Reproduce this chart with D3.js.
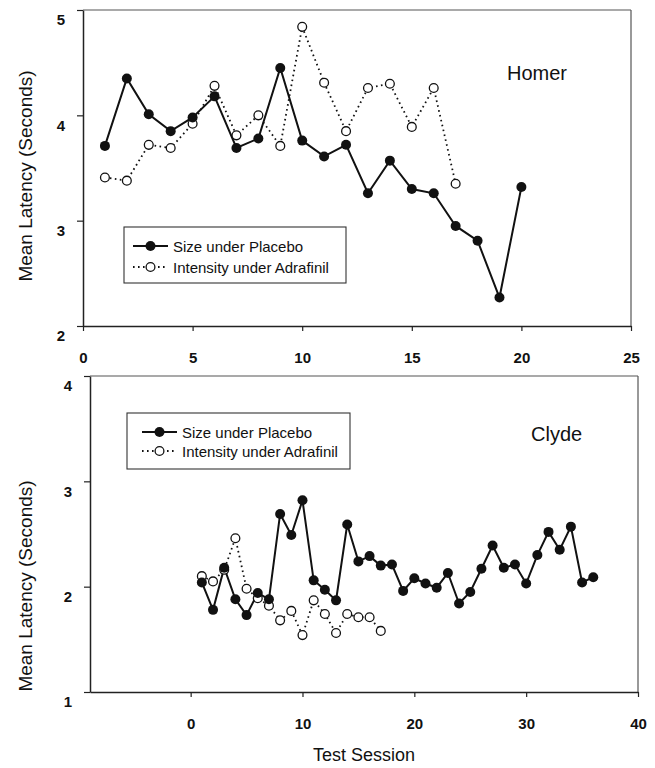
<!DOCTYPE html>
<html>
<head>
<meta charset="utf-8">
<script src="https://cdn.jsdelivr.net/npm/d3@7"></script>
<style>
body { margin: 0; background: #fff; }
svg { display: block; font-family: "Liberation Sans", Arial, sans-serif; }
</style>
</head>
<body>
<svg id="chart" width="655" height="768"></svg>
<script>
// Homer
var homerPlaceboSessions = [1, 2, 3, 4, 5, 6, 7, 8, 9, 10, 11, 12, 13, 14, 15, 16, 17, 18, 19, 20];
var homerPlacebo = [3.71, 4.35, 4.01, 3.85, 3.98, 4.18, 3.69, 3.78, 4.45, 3.76, 3.61, 3.72, 3.26, 3.57, 3.30, 3.26, 2.95, 2.81, 2.27, 3.32];
var homerAdrafinilSessions = [1, 2, 3, 4, 5, 6, 7, 8, 9, 10, 11, 12, 13, 14, 15, 16, 17];
var homerAdrafinil = [3.41, 3.38, 3.72, 3.69, 3.92, 4.28, 3.81, 4.00, 3.71, 4.84, 4.31, 3.85, 4.26, 4.30, 3.89, 4.26, 3.35];

// Clyde
var clydePlaceboSessions = [1, 2, 3, 4, 5, 6, 7, 8, 9, 10, 11, 12, 13, 14, 15, 16, 17, 18, 19, 20, 21, 22, 23, 24, 25, 26, 27, 28, 29, 30, 31, 32, 33, 34, 35, 36];
var clydePlacebo = [2.04, 1.78, 2.18, 1.88, 1.73, 1.94, 1.88, 2.69, 2.49, 2.82, 2.06, 1.97, 1.87, 2.59, 2.24, 2.29, 2.20, 2.21, 1.96, 2.08, 2.03, 1.99, 2.13, 1.84, 1.95, 2.17, 2.39, 2.18, 2.21, 2.03, 2.30, 2.52, 2.35, 2.57, 2.04, 2.09];
var clydeAdrafinilSessions = [1, 2, 3, 4, 5, 6, 7, 8, 9, 10, 11, 12, 13, 14, 15, 16, 17];
var clydeAdrafinil = [2.10, 2.05, 2.16, 2.46, 1.98, 1.89, 1.82, 1.68, 1.77, 1.54, 1.87, 1.74, 1.56, 1.74, 1.71, 1.71, 1.58];

var seriesNames = ["Size under Placebo", "Intensity under Adrafinil"];
var homerXTicks = [0, 5, 10, 15, 20, 25];
var homerYTicks = [2, 3, 4, 5];
var clydeXTicks = [0, 10, 20, 30, 40];
var clydeYTicks = [1, 2, 3, 4];

var svg = d3.select("#chart");

function zip(xs, ys) {
    return xs.map(function (x, i) { return {x: x, y: ys[i]}; });
}

function drawPanel(p) {
    var x = d3.scaleLinear().domain(p.xDomain).range([p.left, p.right]);
    var y = d3.scaleLinear().domain(p.yDomain).range([p.bottom, p.top]);
    var g = svg.append("g");

    // frame: top and right are lighter
    g.append("line").attr("x1", p.left).attr("x2", p.right).attr("y1", p.top).attr("y2", p.top)
        .attr("stroke", "#555").attr("stroke-width", 1.2);
    g.append("line").attr("x1", p.right).attr("x2", p.right).attr("y1", p.top).attr("y2", p.bottom)
        .attr("stroke", "#555").attr("stroke-width", 1.2);

    var xAxis = g.append("g")
        .attr("transform", "translate(0," + p.bottom + ")")
        .call(d3.axisBottom(x).tickValues(p.xTicks).tickSize(5).tickSizeOuter(0).tickPadding(21).tickFormat(d3.format("d")));
    var yAxis = g.append("g")
        .attr("transform", "translate(" + p.left + ",0)")
        .call(d3.axisLeft(y).tickValues(p.yTicks).tickSize(6).tickSizeOuter(0).tickPadding(12).tickFormat(d3.format("d")));

    [xAxis, yAxis].forEach(function (a) {
        a.select(".domain").attr("stroke", "#222").attr("stroke-width", 1.5);
        a.selectAll(".tick line").attr("stroke", "#222").attr("stroke-width", 1.2);
        a.selectAll(".tick text").attr("fill", "#111")
            .style("font-size", "15px").style("font-weight", "bold");
    });
    yAxis.selectAll(".tick text").attr("y", 10);

    g.append("text")
        .attr("transform", "translate(" + p.titleX + "," + p.titleY + ") rotate(-90)")
        .attr("text-anchor", "middle")
        .style("font-size", "19px")
        .attr("fill", "#111")
        .text("Mean Latency (Seconds)");

    g.append("text")
        .attr("x", p.nameX).attr("y", p.nameY)
        .style("font-size", "20px").attr("fill", "#111")
        .text(p.name);

    var line = d3.line().x(function (d) { return x(d.x); }).y(function (d) { return y(d.y); });

    var adr = zip(p.adrX, p.adrY);
    var plc = zip(p.plcX, p.plcY);

    g.append("path").datum(adr).attr("d", line)
        .attr("fill", "none").attr("stroke", "#111").attr("stroke-width", 1.8)
        .attr("stroke-dasharray", "1.6,3.4");
    g.append("path").datum(plc).attr("d", line)
        .attr("fill", "none").attr("stroke", "#111").attr("stroke-width", 2);

    g.selectAll("circle.adr").data(adr).enter().append("circle")
        .attr("class", "adr")
        .attr("cx", function (d) { return x(d.x); })
        .attr("cy", function (d) { return y(d.y); })
        .attr("r", 4.4).attr("fill", "#fff").attr("stroke", "#111").attr("stroke-width", 1.3);
    g.selectAll("circle.plc").data(plc).enter().append("circle")
        .attr("class", "plc")
        .attr("cx", function (d) { return x(d.x); })
        .attr("cy", function (d) { return y(d.y); })
        .attr("r", 5).attr("fill", "#111");

    // legend
    var L = p.legend;
    var lg = g.append("g").attr("transform", "translate(" + L.x + "," + L.y + ")");
    lg.append("rect").attr("width", L.w).attr("height", L.h)
        .attr("fill", "#fff").attr("stroke", "#333").attr("stroke-width", 1.1);
    seriesNames.forEach(function (name, i) {
        var ry = L.row0 + i * L.rowGap;
        lg.append("line").attr("x1", L.sx0).attr("x2", L.sx1).attr("y1", ry).attr("y2", ry)
            .attr("stroke", "#111").attr("stroke-width", i === 0 ? 2 : 1.8)
            .attr("stroke-dasharray", i === 0 ? null : "1.6,3.4");
        lg.append("circle").attr("cx", (L.sx0 + L.sx1) / 2).attr("cy", ry)
            .attr("r", i === 0 ? 5 : 4.4)
            .attr("fill", i === 0 ? "#111" : "#fff")
            .attr("stroke", "#111").attr("stroke-width", i === 0 ? 0 : 1.3);
        lg.append("text").attr("x", L.tx).attr("y", ry + 5.5)
            .style("font-size", "15px").attr("fill", "#111")
            .text(name);
    });
}

drawPanel({
    xDomain: [0, 25], yDomain: [2, 5],
    left: 83, right: 631, top: 10, bottom: 326,
    xTicks: homerXTicks, yTicks: homerYTicks,
    titleX: 32, titleY: 176,
    name: "Homer", nameX: 507, nameY: 80,
    plcX: homerPlaceboSessions, plcY: homerPlacebo,
    adrX: homerAdrafinilSessions, adrY: homerAdrafinil,
    legend: {x: 124, y: 227, w: 222, h: 56, row0: 19, rowGap: 21, sx0: 9, sx1: 44, tx: 49}
});

drawPanel({
    xDomain: [-9, 40], yDomain: [1, 4],
    left: 90, right: 638, top: 376, bottom: 692,
    xTicks: clydeXTicks, yTicks: clydeYTicks,
    titleX: 32, titleY: 586,
    name: "Clyde", nameX: 531, nameY: 441,
    plcX: clydePlaceboSessions, plcY: clydePlacebo,
    adrX: clydeAdrafinilSessions, adrY: clydeAdrafinil,
    legend: {x: 127, y: 413, w: 223, h: 56, row0: 19, rowGap: 19, sx0: 15, sx1: 50, tx: 55}
});

svg.append("text")
    .attr("x", 364).attr("y", 761)
    .attr("text-anchor", "middle")
    .style("font-size", "18px").attr("fill", "#111")
    .text("Test Session");
</script>
</body>
</html>
